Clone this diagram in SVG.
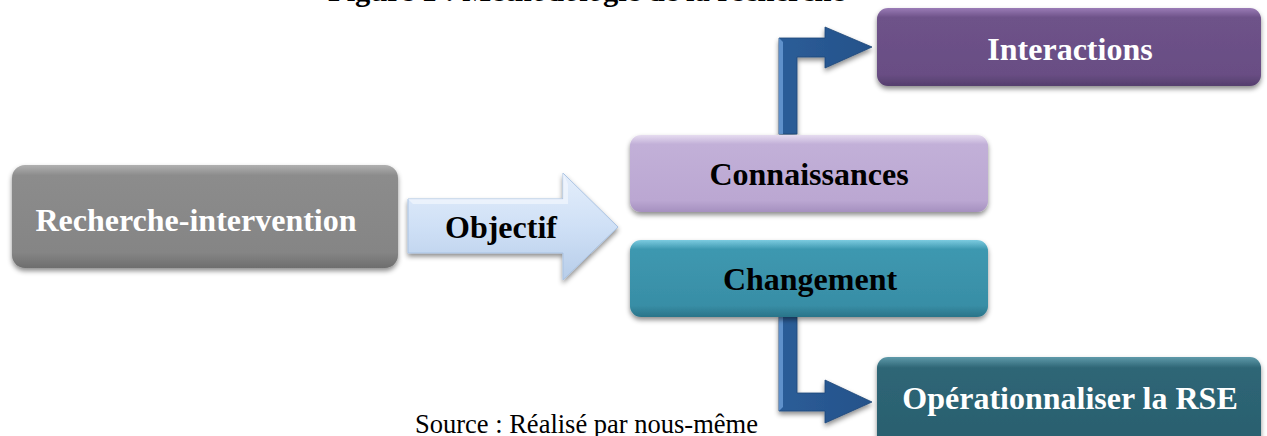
<svg xmlns="http://www.w3.org/2000/svg" width="1267" height="436" viewBox="0 0 1267 436">
  <style>
    .lbl { font-family: "Liberation Serif", "Times New Roman", serif; font-weight: bold; font-size: 32px; text-anchor: middle; }
    .dark { fill: #000000; }
    .light { fill: #ffffff; }
    .title { font-family: "Liberation Serif", "Times New Roman", serif; font-weight: bold; font-size: 30px; fill: #000; }
    .source { font-family: "Liberation Serif", "Times New Roman", serif; font-size: 26.5px; fill: #000; }
    .box { filter: url(#shadow); }
  </style>
  <defs>
    <filter id="shadow" x="-10%" y="-20%" width="120%" height="150%">
      <feDropShadow dx="0" dy="3" stdDeviation="2.5" flood-color="#000" flood-opacity="0.45"/>
    </filter>
    <linearGradient id="gGray" x1="0" y1="0" x2="0" y2="1">
      <stop offset="0" stop-color="#b0b0b0"/>
      <stop offset="0.1" stop-color="#8c8c8c"/>
      <stop offset="0.85" stop-color="#858585"/>
      <stop offset="1" stop-color="#6e6e6e"/>
    </linearGradient>
    <linearGradient id="gLilac" x1="0" y1="0" x2="0" y2="1">
      <stop offset="0" stop-color="#e6dcf0"/>
      <stop offset="0.12" stop-color="#c2b0d8"/>
      <stop offset="0.85" stop-color="#bba7d2"/>
      <stop offset="1" stop-color="#a590bf"/>
    </linearGradient>
    <linearGradient id="gTeal" x1="0" y1="0" x2="0" y2="1">
      <stop offset="0" stop-color="#7ccbe0"/>
      <stop offset="0.12" stop-color="#3e98b0"/>
      <stop offset="0.85" stop-color="#388ea6"/>
      <stop offset="1" stop-color="#2a7489"/>
    </linearGradient>
    <linearGradient id="gPurple" x1="0" y1="0" x2="0" y2="1">
      <stop offset="0" stop-color="#9a7cb6"/>
      <stop offset="0.12" stop-color="#6e5289"/>
      <stop offset="0.85" stop-color="#694e84"/>
      <stop offset="1" stop-color="#553e6d"/>
    </linearGradient>
    <linearGradient id="gDeep" x1="0" y1="0" x2="0" y2="1">
      <stop offset="0" stop-color="#5f9aaa"/>
      <stop offset="0.12" stop-color="#2e6676"/>
      <stop offset="1" stop-color="#2a5f6e"/>
    </linearGradient>
    <linearGradient id="gPale" x1="0" y1="0" x2="0" y2="1">
      <stop offset="0" stop-color="#e4eefb"/>
      <stop offset="0.5" stop-color="#cfe0f6"/>
      <stop offset="1" stop-color="#b7cde9"/>
    </linearGradient>
    <linearGradient id="gBlue" x1="0" y1="0" x2="1" y2="0">
      <stop offset="0" stop-color="#2c5d98"/>
      <stop offset="1" stop-color="#24528a"/>
    </linearGradient>
  </defs>

  <!-- heading, partly above the top edge -->
  <text class="title" x="328" y="1" textLength="517" lengthAdjust="spacingAndGlyphs">Figure 1 : Méthodologie de la recherche</text>

  <!-- connectors -->
  <g id="connectors">
    <!-- bent arrow up to Interactions -->
    <path class="box" d="M779,134 L779,38 L825,38 L825,27 L872,47 L825,68 L825,57 L797,57 L797,134 Z" fill="url(#gBlue)" stroke="#1f4778" stroke-width="0.8"/>
    <path d="M779,134 L779,38 L783,42 L783,134 Z" fill="#6d9fd8" opacity="0.8"/>
    <!-- bent arrow down to Opérationnaliser la RSE -->
    <path class="box" d="M779,316 L779,411 L825,411 L825,423 L872,402 L825,380 L825,393 L797,393 L797,316 Z" fill="url(#gBlue)" stroke="#1f4778" stroke-width="0.8"/>
    <path d="M779,316 L779,411 L783,407 L783,316 Z" fill="#6d9fd8" opacity="0.8"/>
  </g>

  <!-- Recherche-intervention -->
  <g id="node-recherche">
    <rect class="box" x="12" y="165" width="386" height="103" rx="13" fill="url(#gGray)"/>
    <text class="lbl light" x="196" y="231">Recherche-intervention</text>
  </g>

  <!-- Objectif block arrow -->
  <g id="node-objectif">
    <path class="box" d="M408,199 L563,199 L563,173 L618,227 L563,280 L563,253 L408,253 Z" fill="url(#gPale)" stroke="#a9c2e2" stroke-width="1"/>
    <path d="M408,199 L563,199 L563,173 L568,184 L568,204 L413,204 Z" fill="#f2f7fe" opacity="0.7"/>
    <text class="lbl dark" x="501" y="238">Objectif</text>
  </g>

  <!-- Connaissances -->
  <g id="node-connaissances">
    <rect class="box" x="630" y="135" width="358" height="77" rx="11" fill="url(#gLilac)"/>
    <text class="lbl dark" x="809" y="185">Connaissances</text>
  </g>

  <!-- Changement -->
  <g id="node-changement">
    <rect class="box" x="630" y="240" width="358" height="77" rx="11" fill="url(#gTeal)"/>
    <text class="lbl dark" x="810" y="290">Changement</text>
  </g>

  <!-- Interactions -->
  <g id="node-interactions">
    <rect class="box" x="877" y="8" width="384" height="78" rx="11" fill="url(#gPurple)"/>
    <text class="lbl light" x="1070" y="60">Interactions</text>
  </g>

  <!-- Opérationnaliser la RSE -->
  <g id="node-rse">
    <rect class="box" x="877" y="357" width="384" height="90" rx="11" fill="url(#gDeep)"/>
    <text class="lbl light" x="1070" y="409">Opérationnaliser la RSE</text>
  </g>

  <!-- source line -->
  <text class="source" x="415" y="433">Source : Réalisé par nous-même</text>
</svg>
